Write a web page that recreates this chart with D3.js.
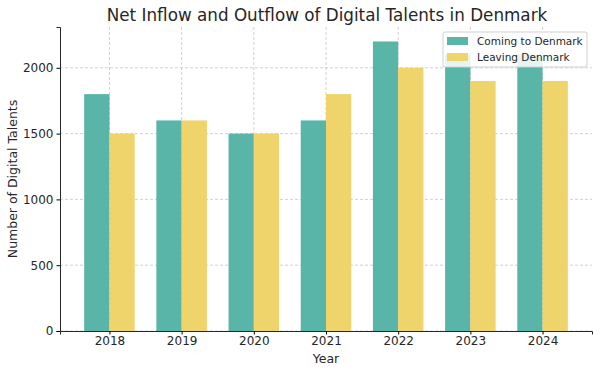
<!DOCTYPE html>
<html lang="en">
<head>
    <meta charset="UTF-8">
    <title>D3</title>
    <style>
        body { margin: 0; background: #fff; }
        text { font-family: "DejaVu Sans", sans-serif; fill: #262626; }
    </style>
</head>
<body>
    <div class="canvas"></div>

    <script src="https://cdnjs.cloudflare.com/ajax/libs/d3/7.8.5/d3.min.js"></script>

    <script>
        const years = ["2018", "2019", "2020", "2021", "2022", "2023", "2024"];
        const coming = [1800, 1600, 1500, 1600, 2200, 2100, 2100];
        const leaving = [1500, 1600, 1500, 1800, 2000, 1900, 1900];
        const yTicks = [0, 500, 1000, 1500, 2000];
        const seriesNames = ["Coming to Denmark", "Leaving Denmark"];
        const colors = ["#58b5a7", "#efd36b"];

        const width = 600, height = 372;
        const margin = { top: 27, right: 8, bottom: 41, left: 60 };

        const svg = d3.select(".canvas").append("svg")
            .attr("width", width)
            .attr("height", height);

        const barW = 0.35;
        const x = d3.scaleLinear()
            .domain([-0.685, years.length - 1 + 0.685])
            .range([margin.left, width - margin.right]);

        const y = d3.scaleLinear()
            .domain([0, 2310])
            .range([height - margin.bottom, margin.top]);

        // grid
        const grid = svg.append("g")
            .attr("stroke", "#b0b0b0")
            .attr("stroke-width", 0.8)
            .attr("stroke-dasharray", "3,2")
            .attr("opacity", 0.7);
        grid.selectAll(".gy")
            .data(yTicks)
            .join("line")
                .attr("x1", margin.left)
                .attr("x2", width - margin.right)
                .attr("y1", d => y(d))
                .attr("y2", d => y(d));
        grid.selectAll(".gx")
            .data(years)
            .join("line")
                .attr("x1", (d, i) => x(i))
                .attr("x2", (d, i) => x(i))
                .attr("y1", margin.top)
                .attr("y2", height - margin.bottom);

        // bars
        const series = [coming, leaving];
        series.forEach((vals, s) => {
            svg.append("g").selectAll("rect")
                .data(vals)
                .join("rect")
                    .attr("x", (d, i) => x(i - barW + s * barW))
                    .attr("width", x(barW) - x(0))
                    .attr("y", d => y(d))
                    .attr("height", d => y(0) - y(d))
                    .attr("fill", colors[s]);
        });

        // axes
        const xAxis = d3.axisBottom(x)
            .tickValues(d3.range(years.length))
            .tickFormat(i => years[i])
            .tickSize(3.5)
            .tickPadding(2);
        const gx = svg.append("g")
            .attr("transform", `translate(0,${height - margin.bottom})`)
            .call(xAxis);
        gx.select(".domain").attr("stroke", "#262626").attr("stroke-width", 1);
        gx.selectAll("text").attr("font-size", 12).attr("fill", "#262626");

        const yAxis = d3.axisLeft(y)
            .tickValues(yTicks)
            .tickFormat(d3.format("d"))
            .tickSize(3.5)
            .tickPadding(3);
        const gy = svg.append("g")
            .attr("transform", `translate(${margin.left},0)`)
            .call(yAxis);
        gy.select(".domain").attr("stroke", "#262626").attr("stroke-width", 1);
        gy.selectAll("text").attr("font-size", 12).attr("fill", "#262626");

        // labels
        svg.append("text")
            .attr("x", 327)
            .attr("y", 20.5)
            .attr("text-anchor", "middle")
            .attr("font-size", 16.8)
            .text("Net Inflow and Outflow of Digital Talents in Denmark");

        svg.append("text")
            .attr("x", 326)
            .attr("y", 363)
            .attr("text-anchor", "middle")
            .attr("font-size", 12.5)
            .text("Year");

        svg.append("text")
            .attr("transform", `translate(17,${(margin.top + height - margin.bottom) / 2}) rotate(-90)`)
            .attr("text-anchor", "middle")
            .attr("font-size", 12.5)
            .text("Number of Digital Talents");

        // legend
        const lg = svg.append("g").attr("transform", "translate(443,32)");
        lg.append("rect")
            .attr("width", 144)
            .attr("height", 35)
            .attr("rx", 2)
            .attr("fill", "#fff")
            .attr("fill-opacity", 0.85)
            .attr("stroke", "#d0d0d0");
        seriesNames.forEach((name, i) => {
            lg.append("rect")
                .attr("x", 4)
                .attr("y", 5 + i * 16)
                .attr("width", 21)
                .attr("height", 8)
                .attr("fill", colors[i]);
            lg.append("text")
                .attr("x", 34)
                .attr("y", 12.5 + i * 16)
                .attr("font-size", 10.5)
                .text(name);
        });
    </script>
</body>
</html>
